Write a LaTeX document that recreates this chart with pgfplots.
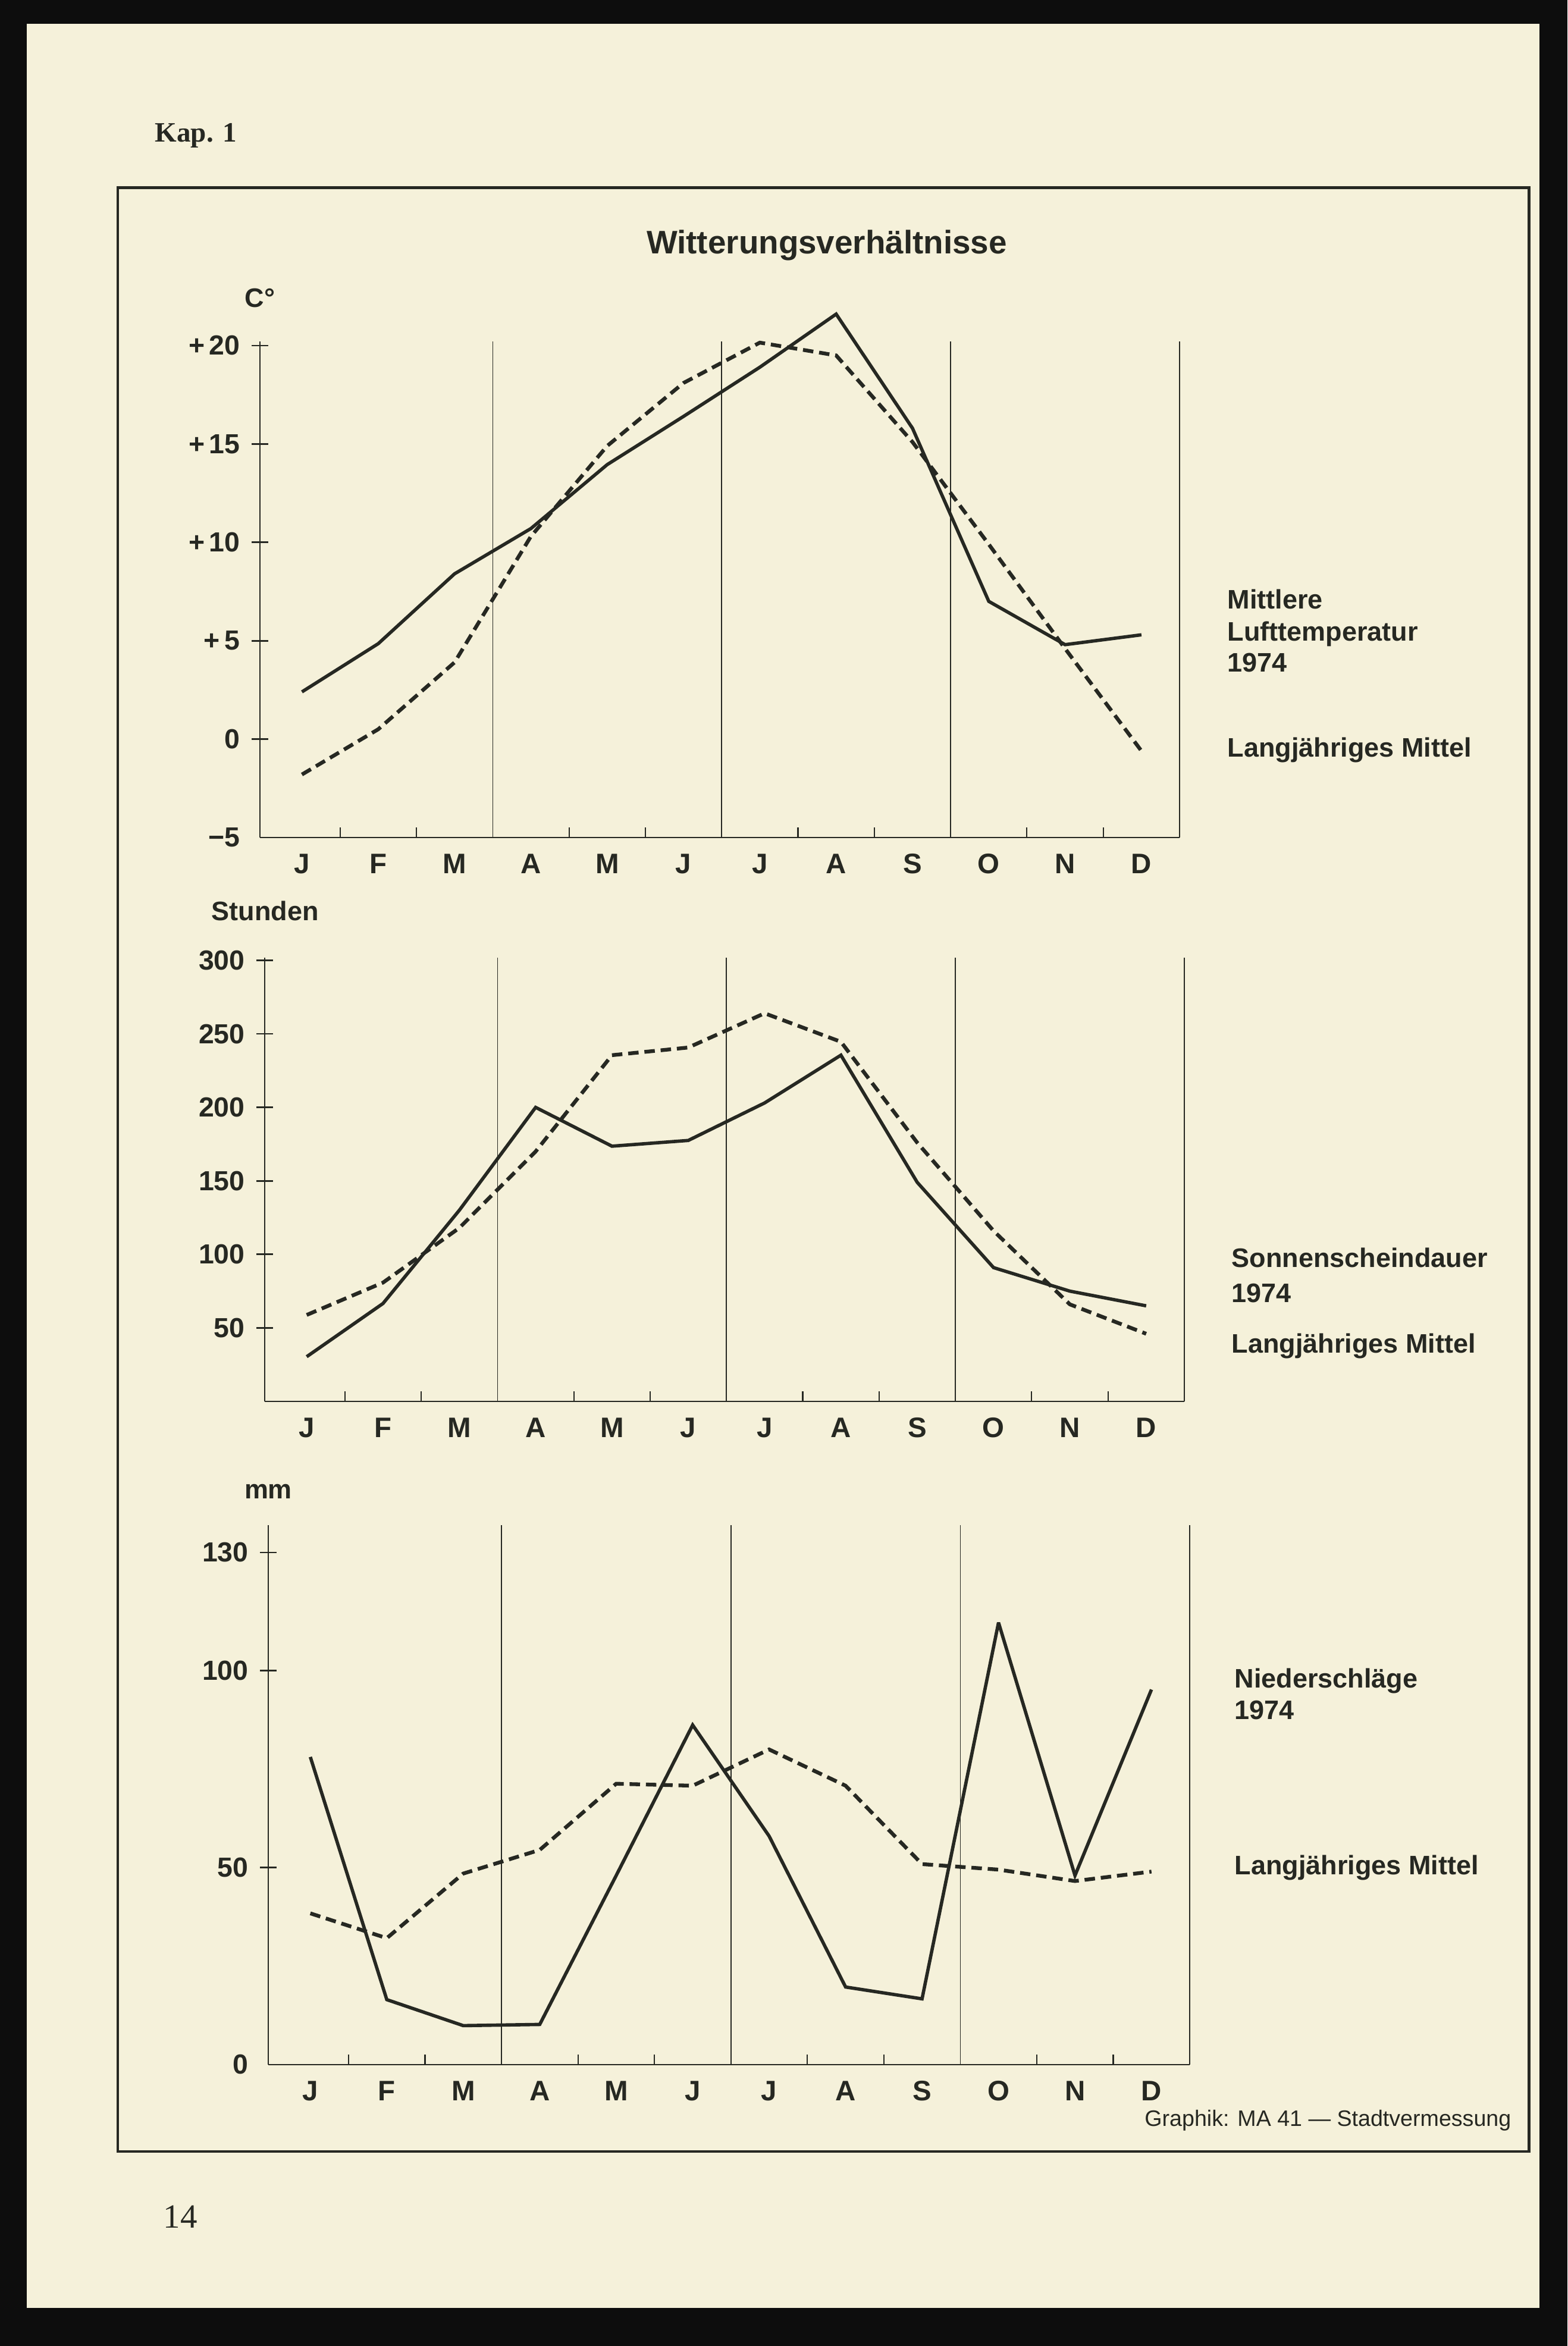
\documentclass[border=0pt]{standalone}
\usepackage{fontspec}
\setmainfont{Liberation Sans}
\newfontfamily\seriffont{Liberation Serif}
\usepackage{pgfplots}
\pgfplotsset{compat=1.18}
\definecolor{ink}{RGB}{38,40,34}
\definecolor{paper}{RGB}{245,241,218}
\newcommand{\lfont}{\fontsize{12.8pt}{15pt}\selectfont\bfseries}
\pgfplotsset{
  klima/.style={
    scale only axis, anchor=south west, clip=false,
    xmin=-0.55, xmax=11.5,
    axis x line*=bottom, axis y line*=left,
    axis line style={ink, line width=0.8pt, -},
    xtick={0,...,11},
    xticklabels={J,F,M,A,M,J,J,A,S,O,N,D},
    xtick style={draw=none},
    tick align=center,
    major tick length=7.7pt,
    tick style={ink, line width=0.8pt},
    extra x ticks={2.5,5.5,8.5,11.5},
    extra x tick labels={},
    extra x tick style={grid=major, major grid style={ink, line width=0.45pt}},
    /pgf/number format/assume math mode=true,
    xticklabel style={font=\fontsize{13.5pt}{16pt}\selectfont\bfseries, text=ink, inner sep=0pt, anchor=north, yshift=-3.85pt},
    yticklabel style={font=\fontsize{13.2pt}{15pt}\selectfont\bfseries, text=ink, inner sep=0pt, anchor=east, xshift=-5.5pt},
  },
  s1974/.style={ink, line width=1.6pt, line join=miter, miter limit=3, no marks},
  smittel/.style={ink, line width=1.8pt, dash pattern=on 5pt off 2.8pt, line join=miter, miter limit=3, no marks},
}
\begin{document}
\begin{tikzpicture}
% page
\fill[black!95] (0,0) rectangle (26.35,39.44);
\fill[paper] (0.45,0.64) rectangle (25.88,39.04);
\draw[ink, line width=1.4pt] (1.98,3.27) rectangle (25.70,36.28);
% texts
\node[anchor=base west, inner sep=0pt, text=ink] at (2.60,37.05) {\seriffont\bfseries\fontsize{13.4pt}{16pt}\selectfont Kap. 1};
\node[anchor=base, inner sep=0pt, text=ink] at (3.03,1.98) {\seriffont\fontsize{16.2pt}{19pt}\selectfont 14};
\node[anchor=base, inner sep=0pt, text=ink] at (13.90,35.17) {\fontsize{15.6pt}{18pt}\selectfont\bfseries Witterungsverhältnisse};
\node[anchor=base east, inner sep=0pt, text=ink] at (25.41,3.69) {\fontsize{10.7pt}{13pt}\selectfont Graphik: MA 41 — Stadtvermessung};
\node[anchor=base, inner sep=0pt, text=ink] at (4.37,34.27) {\lfont C°};
\node[anchor=base west, inner sep=0pt, text=ink] at (3.55,23.96) {\lfont Stunden};
\node[anchor=base, inner sep=0pt, text=ink] at (4.51,14.24) {\lfont mm};
% legends
\node[anchor=base west, inner sep=0pt, text=ink] at (20.63,29.20) {\lfont Mittlere};
\node[anchor=base west, inner sep=0pt, text=ink] at (20.63,28.66) {\lfont Lufttemperatur};
\node[anchor=base west, inner sep=0pt, text=ink] at (20.63,28.14) {\lfont 1974};
\node[anchor=base west, inner sep=0pt, text=ink] at (20.63,26.71) {\lfont Langjähriges Mittel};
\node[anchor=base west, inner sep=0pt, text=ink] at (20.70,18.13) {\lfont Sonnenscheindauer};
\node[anchor=base west, inner sep=0pt, text=ink] at (20.70,17.54) {\lfont 1974};
\node[anchor=base west, inner sep=0pt, text=ink] at (20.70,16.69) {\lfont Langjähriges Mittel};
\node[anchor=base west, inner sep=0pt, text=ink] at (20.75,11.06) {\lfont Niederschläge};
\node[anchor=base west, inner sep=0pt, text=ink] at (20.75,10.53) {\lfont 1974};
\node[anchor=base west, inner sep=0pt, text=ink] at (20.75,7.92) {\lfont Langjähriges Mittel};

% Chart 1: temperature
\begin{axis}[klima, at={(4.37cm,25.36cm)}, width=15.46cm, height=8.336cm,
  ymin=-5, ymax=20.2,
  ytick={0,5,10,15,20}, yticklabels={0,+\,5,+\,10,+\,15,+\,20},
  extra y ticks={-5}, extra y tick labels={−5}, extra y tick style={tick style={draw=none}}]
\addplot[s1974] coordinates {(0,2.4)(1,4.85)(2,8.4)(3,10.7)(4,13.95)(5,16.4)(6,18.9)(7,21.6)(8,15.8)(9,7.0)(10,4.8)(11,5.3)};
\addplot[smittel] coordinates {(0,-1.8)(1,0.5)(2,3.9)(3,10.3)(4,14.9)(5,18.1)(6,20.15)(7,19.5)(8,15.1)(9,9.9)(10,4.6)(11,-0.6)};
\pgfplotsinvokeforeach{0.5,1.5,3.5,4.5,6.5,7.5,9.5,10.5}{\draw[ink, line width=0.6pt] (axis cs:#1,-5) -- (axis cs:#1,-4.5);}
\end{axis}

% Chart 2: sunshine
\begin{axis}[klima, at={(4.45cm,15.88cm)}, width=15.46cm, height=7.464cm,
  ymin=0, ymax=302,
  ytick={50,100,150,200,250,300}, yticklabels={50,100,150,200,250,300}]
\addplot[s1974] coordinates {(0,30.4)(1,66.6)(2,130)(3,200)(4,173.6)(5,177.5)(6,203)(7,235.5)(8,149)(9,91)(10,75)(11,65)};
\addplot[smittel] coordinates {(0,58.8)(1,80.8)(2,118)(3,170)(4,235.5)(5,240.7)(6,264)(7,244.6)(8,176)(9,116)(10,66)(11,46)};
\pgfplotsinvokeforeach{0.5,1.5,3.5,4.5,6.5,7.5,9.5,10.5}{\draw[ink, line width=0.6pt] (axis cs:#1,0) -- (axis cs:#1,7);}
\end{axis}

% Chart 3: precipitation
\begin{axis}[klima, at={(4.51cm,4.73cm)}, width=15.49cm, height=9.074cm,
  ymin=0, ymax=137,
  ytick={50,100,130}, yticklabels={50,100,130},
  extra y ticks={0}, extra y tick labels={0}, extra y tick style={tick style={draw=none}}]
\addplot[s1974] coordinates {(0,78.1)(1,16.5)(2,9.9)(3,10.2)(4,48)(5,86.2)(6,58)(7,19.7)(8,16.7)(9,112.2)(10,48)(11,95.2)};
\addplot[smittel] coordinates {(0,38.4)(1,32.1)(2,48.5)(3,54.5)(4,71.3)(5,70.8)(6,80)(7,70.8)(8,50.9)(9,49.5)(10,46.6)(11,49)};
\pgfplotsinvokeforeach{0.5,1.5,3.5,4.5,6.5,7.5,9.5,10.5}{\draw[ink, line width=0.6pt] (axis cs:#1,0) -- (axis cs:#1,2.6);}
\end{axis}
\end{tikzpicture}
\end{document}
